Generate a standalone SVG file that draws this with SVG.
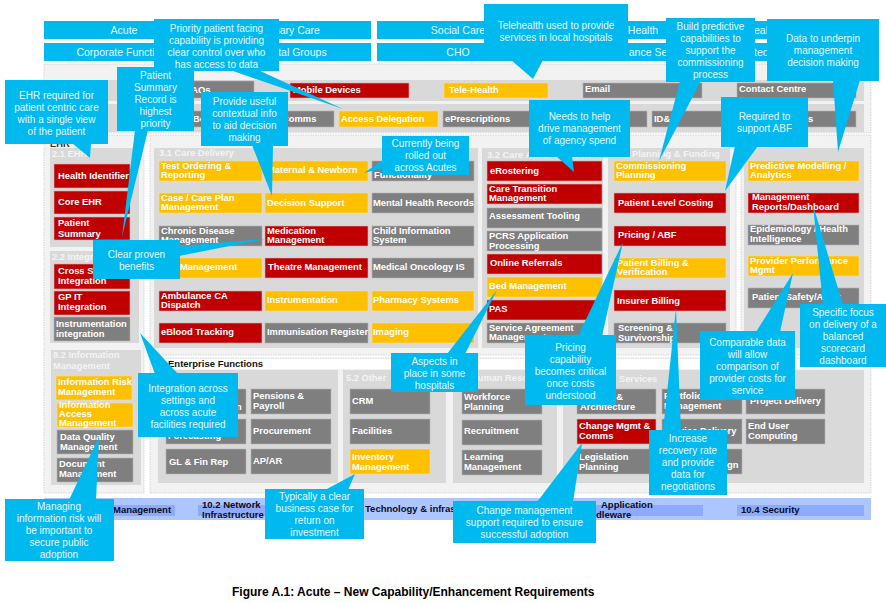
<svg xmlns="http://www.w3.org/2000/svg" width="886" height="603" viewBox="0 0 886 603">
<style>
text{font-family:"Liberation Sans",Arial,sans-serif}
.hd{fill:#00b9ef}.hdt{font-size:10.5px;fill:#e6f7fd;text-anchor:middle}
.out{fill:#f2f2f2;stroke:#c8c8c8;stroke-width:.7;stroke-dasharray:1.5 1}
.pan{fill:#d9d9d9}
.ti{font-size:9.3px;font-weight:bold;fill:#f4f4f4}
.r{fill:#c00000;stroke:#d8b0b0;stroke-width:.6}.o{fill:#ffc000;stroke:#f2dc9c;stroke-width:.6}.g{fill:#7f7f7f;stroke:#b4b4b4;stroke-width:.6}
.t{font-size:9.4px;font-weight:bold;fill:#fff}
.c,.tail{fill:#00b9ef}
.ct{font-size:10px;fill:#e6f7fd;text-anchor:middle}
.bar{fill:#8cacfb}.bt{font-size:9.5px;font-weight:bold;fill:#0a0a1e}
</style>
<rect width="886" height="603" fill="#fff"/>

<g id="header">
<g id="h-acute"><rect class="hd" x="44" y="21" width="162" height="18"/><text class="hdt" x="124" y="34">Acute</text></g>
<g id="h-primary"><rect class="hd" x="206" y="21" width="165" height="18"/><text class="hdt" x="289" y="34">Primary Care</text></g>
<g id="h-social"><rect class="hd" x="377" y="21" width="161" height="18"/><text class="hdt" x="458" y="34">Social Care</text></g>
<g id="h-health"><rect class="hd" x="538" y="21" width="167" height="18"/><text class="hdt" x="643" y="34">Health</text></g>
<g id="h-5"><rect class="hd" x="705" y="21" width="167" height="18"/><text class="hdt" x="761" y="34">eal</text></g>
<g id="h-corp"><rect class="hd" x="44" y="43" width="162" height="18"/><text class="hdt" x="124" y="56">Corporate Functions</text></g>
<g id="h-hosp"><rect class="hd" x="206" y="43" width="165" height="18"/><text class="hdt" x="289" y="56">Hospital Groups</text></g>
<g id="h-cho"><rect class="hd" x="377" y="43" width="161" height="18"/><text class="hdt" x="458" y="56">CHO</text></g>
<g id="h-ins"><rect class="hd" x="538" y="43" width="167" height="18"/><text class="hdt" x="648" y="56">ance Se</text></g>
<g id="h-10"><rect class="hd" x="705" y="43" width="167" height="18"/><text class="hdt" x="761" y="56">tec</text></g>
</g>

<g id="containers">
<rect class="out" x="44" y="64" width="827" height="69"/>
<text class="ti" x="50" y="74">1.0 Channels</text>
<rect class="pan" x="48" y="80" width="816" height="21"/>
<rect class="pan" x="48" y="104" width="816" height="28"/>
<rect class="out" x="44" y="135" width="100" height="358"/>
<text x="50" y="147" font-size="9.3" font-weight="bold" fill="#333">EHR</text>
<rect class="pan" x="50" y="148" width="89" height="99"/>
<text class="ti" x="52" y="157">2.1 EHR</text>
<rect class="pan" x="50" y="251" width="89" height="92"/>
<text class="ti" x="52" y="260">2.2 Integration</text>
<rect class="pan" x="51" y="350" width="90" height="135"/>
<text class="ti" x="53" y="358">8.2 Information</text>
<text class="ti" x="53" y="369">Management</text>
<rect class="out" x="150" y="135" width="586" height="220"/>
<text class="ti" x="157" y="143">3.0 Care</text>
<rect class="pan" x="154" y="148" width="324" height="200"/>
<text class="ti" x="159" y="156">3.1 Care Delivery</text>
<rect class="pan" x="482" y="148" width="121" height="200"/>
<text class="ti" x="487" y="158">3.2 Care Administration</text>
<rect class="pan" x="608" y="148" width="122" height="200"/>
<text class="ti" x="632" y="157">Planning &amp; Funding</text>
<rect class="out" x="741" y="135" width="130" height="220"/>
<text class="ti" x="783" y="145">Reporting</text>
<rect class="pan" x="744" y="148" width="120" height="200"/>
<rect class="out" x="150" y="358" width="721" height="135"/>
<rect x="152" y="359" width="717" height="10" fill="#fff"/>
<text x="168" y="367" font-size="9.5" font-weight="bold" fill="#111">Enterprise Functions</text>
<rect class="pan" x="158" y="370" width="180" height="113"/>
<rect class="pan" x="343" y="370" width="103" height="113"/>
<text class="ti" x="346" y="381">5.2 Other</text>
<rect class="pan" x="453" y="370" width="104" height="113"/>
<text class="ti" x="471" y="381">Human Resources</text>
<rect class="pan" x="563" y="370" width="301" height="113"/>
<text class="ti" x="619" y="382">Services</text>
<rect x="44" y="498" width="827" height="22" fill="#adc6fd"/>
<rect class="bar" x="50" y="505" width="125" height="11"/>
<rect class="bar" x="198" y="505" width="92" height="11"/>
<rect class="bar" x="563" y="505" width="140" height="11"/>
<rect class="bar" x="737" y="505" width="127" height="11"/>
<text class="bt" x="113" y="513">Management</text>
<text class="bt" x="202" y="508">10.2 Network</text>
<text class="bt" x="202" y="518">Infrastructure</text>
<text class="bt" x="365" y="512">Technology &amp; infrastructure</text>
<text class="bt" x="601" y="508">Application</text>
<text class="bt" x="596" y="518">dleware</text>
<text class="bt" x="741" y="513">10.4 Security</text>
</g>

<g id="nodes">
<g id="n-faq"><rect class="g" x="135" y="81" width="119" height="17"/><text class="t" x="186" y="93">FAQs</text></g>
<g id="n-mobile"><rect class="r" x="290" y="83" width="119" height="15"/><text class="t" x="293" y="93">Mobile Devices</text></g>
<g id="n-tele"><rect class="o" x="444" y="83" width="104" height="15"/><text class="t" x="449" y="93">Tele-Health</text></g>
<g id="n-email"><rect class="g" x="583" y="83" width="119" height="15"/><text class="t" x="585" y="92">Email</text></g>
<g id="n-contact"><rect class="g" x="737" y="83" width="119" height="15"/><text class="t" x="739" y="92">Contact Centre</text></g>
<g id="n-bo"><rect class="g" x="135" y="111" width="100" height="16"/><text class="t" x="193" y="122">Bo</text></g>
<g id="n-comms"><rect class="g" x="240" y="111" width="94" height="16"/><text class="t" x="282" y="122">Comms</text></g>
<g id="n-access"><rect class="o" x="339" y="111" width="99" height="16"/><text class="t" x="341" y="122">Access Delegation</text></g>
<g id="n-epres"><rect class="g" x="443" y="111" width="98" height="16"/><text class="t" x="445" y="122">ePrescriptions</text></g>
<g id="n-r2b"><rect class="g" x="547" y="111" width="100" height="16"/></g>
<g id="n-id"><rect class="g" x="652" y="111" width="98" height="16"/><text class="t" x="654" y="122">ID&amp;</text></g>
<g id="n-r2d"><rect class="g" x="756" y="111" width="100" height="16"/><text class="t" x="808" y="122">s</text></g>

<g id="n-health-id"><rect class="r" x="54" y="164" width="76" height="24"/><text class="t" x="58" y="179">Health Identifier</text></g>
<g id="n-core"><rect class="r" x="54" y="191" width="76" height="23"/><text class="t" x="58" y="205">Core EHR</text></g>
<g id="n-summary"><rect class="r" x="54" y="217" width="76" height="23"/><text class="t" x="58" y="226">Patient<tspan x="58" dy="11">Summary</tspan></text></g>
<g id="n-cross"><rect class="r" x="54" y="264" width="76" height="25"/><text class="t" x="58" y="274">Cross Setting<tspan x="58" dy="10">Integration</tspan></text></g>
<g id="n-gp"><rect class="r" x="54" y="291" width="76" height="24"/><text class="t" x="58" y="300">GP IT<tspan x="58" dy="10">Integration</tspan></text></g>
<g id="n-instr-int"><rect class="g" x="54" y="317" width="76" height="24"/><text class="t" x="56" y="327">Instrumentation<tspan x="56" dy="9.5">integration</tspan></text></g>
<g id="n-inforisk"><rect class="o" x="56" y="376" width="76" height="24"/><text class="t" x="58" y="385">Information Risk<tspan x="58" dy="9.5">Management</tspan></text></g>
<g id="n-infoacc"><rect class="o" x="57" y="403" width="76" height="24"/><text class="t" x="59" y="408">Information<tspan x="59" dy="9">Access</tspan><tspan x="59" dy="9">Management</tspan></text></g>
<g id="n-dq"><rect class="g" x="57" y="430" width="76" height="24"/><text class="t" x="60" y="440">Data Quality<tspan x="60" dy="10">Management</tspan></text></g>
<g id="n-doc"><rect class="g" x="57" y="458" width="76" height="24"/><text class="t" x="59" y="467">Document<tspan x="59" dy="9.5">Management</tspan></text></g>

<g id="n-test"><rect class="o" x="159" y="161" width="103" height="20"/><text class="t" x="161" y="169">Test Ordering &amp;<tspan x="161" dy="9">Reporting</tspan></text></g>
<g id="n-maternal"><rect class="o" x="265" y="161" width="103" height="20"/><text class="t" x="267" y="173">Maternal &amp; Newborn</text></g>
<g id="n-func"><rect class="g" x="372" y="161" width="102" height="20"/><text class="t" x="374" y="178">Functionality</text></g>
<g id="n-case"><rect class="o" x="159" y="193" width="103" height="20"/><text class="t" x="161" y="201">Case / Care Plan<tspan x="161" dy="9">Management</tspan></text></g>
<g id="n-decision"><rect class="o" x="265" y="193" width="103" height="20"/><text class="t" x="267" y="206">Decision Support</text></g>
<g id="n-mental"><rect class="g" x="372" y="193" width="102" height="20"/><text class="t" x="373" y="206">Mental Health Records</text></g>
<g id="n-chronic"><rect class="g" x="159" y="226" width="103" height="20"/><text class="t" x="161" y="234">Chronic Disease<tspan x="161" dy="9">Management</tspan></text></g>
<g id="n-med"><rect class="r" x="265" y="226" width="103" height="20"/><text class="t" x="267" y="234">Medication<tspan x="267" dy="9">Management</tspan></text></g>
<g id="n-child"><rect class="g" x="372" y="226" width="102" height="20"/><text class="t" x="373" y="234">Child Information<tspan x="373" dy="9">System</tspan></text></g>
<g id="n-mgmt"><rect class="o" x="159" y="258" width="103" height="20"/><text class="t" x="180" y="270">Management</text></g>
<g id="n-theatre"><rect class="r" x="265" y="258" width="103" height="20"/><text class="t" x="268" y="270">Theatre Management</text></g>
<g id="n-oncology"><rect class="g" x="372" y="258" width="102" height="20"/><text class="t" x="373" y="270">Medical Oncology IS</text></g>
<g id="n-amb"><rect class="r" x="159" y="291" width="103" height="20"/><text class="t" x="161" y="299">Ambulance CA<tspan x="161" dy="9">Dispatch</tspan></text></g>
<g id="n-instr"><rect class="o" x="265" y="291" width="103" height="20"/><text class="t" x="267" y="303">Instrumentation</text></g>
<g id="n-pharm"><rect class="o" x="372" y="291" width="102" height="20"/><text class="t" x="373" y="303">Pharmacy Systems</text></g>
<g id="n-eblood"><rect class="r" x="159" y="323" width="103" height="20"/><text class="t" x="161" y="335">eBlood Tracking</text></g>
<g id="n-immun"><rect class="g" x="265" y="323" width="103" height="20"/><text class="t" x="267" y="335">Immunisation Register</text></g>
<g id="n-imaging"><rect class="o" x="372" y="323" width="102" height="20"/><text class="t" x="373" y="335">Imaging</text></g>

<g id="n-eros"><rect class="r" x="487" y="161" width="115" height="20"/><text class="t" x="490" y="174">eRostering</text></g>
<g id="n-transition"><rect class="r" x="487" y="184" width="115" height="20"/><text class="t" x="489" y="192">Care Transition<tspan x="489" dy="9">Management</tspan></text></g>
<g id="n-assess"><rect class="g" x="487" y="208" width="115" height="20"/><text class="t" x="489" y="219">Assessment Tooling</text></g>
<g id="n-pcrs"><rect class="g" x="487" y="231" width="115" height="20"/><text class="t" x="489" y="239">PCRS  Application<tspan x="489" dy="10">Processing</tspan></text></g>
<g id="n-online"><rect class="r" x="487" y="254" width="115" height="20"/><text class="t" x="490" y="266">Online Referrals</text></g>
<g id="n-bed"><rect class="o" x="487" y="277" width="115" height="20"/><text class="t" x="489" y="289">Bed Management</text></g>
<g id="n-pas"><rect class="r" x="487" y="300" width="115" height="20"/><text class="t" x="489" y="312">PAS</text></g>
<g id="n-sam"><rect class="g" x="487" y="323" width="115" height="20"/><text class="t" x="489" y="331">Service Agreement<tspan x="489" dy="9">Management</tspan></text></g>

<g id="n-comm"><rect class="o" x="614" y="161" width="112" height="20"/><text class="t" x="616" y="169">Commissioning<tspan x="616" dy="9">Planning</tspan></text></g>
<g id="n-plc"><rect class="r" x="614" y="193" width="112" height="20"/><text class="t" x="618" y="206">Patient Level Costing</text></g>
<g id="n-abf"><rect class="r" x="614" y="226" width="112" height="20"/><text class="t" x="618" y="238">Pricing / ABF</text></g>
<g id="n-billing"><rect class="o" x="614" y="258" width="112" height="20"/><text class="t" x="617" y="266">Patient Billing &amp;<tspan x="617" dy="9">Verification</tspan></text></g>
<g id="n-insurer"><rect class="r" x="614" y="290" width="112" height="21"/><text class="t" x="617" y="304">Insurer Billing</text></g>
<g id="n-screen"><rect class="g" x="614" y="323" width="112" height="20"/><text class="t" x="618" y="331">Screening &amp;<tspan x="618" dy="9.5">Survivorship</tspan></text></g>

<g id="n-pred"><rect class="o" x="748" y="161" width="111" height="20"/><text class="t" x="750" y="169">Predictive Modelling /<tspan x="750" dy="9">Analytics</tspan></text></g>
<g id="n-reports"><rect class="r" x="748" y="193" width="111" height="20"/><text class="t" x="752" y="200">Management<tspan x="752" dy="10">Reports/Dashboard</tspan></text></g>
<g id="n-epi"><rect class="g" x="748" y="225" width="111" height="20"/><text class="t" x="750" y="232">Epidemiology / Health<tspan x="750" dy="9.5">Intelligence</tspan></text></g>
<g id="n-ppm"><rect class="o" x="748" y="256" width="111" height="20"/><text class="t" x="750" y="264">Provider Performance<tspan x="750" dy="9">Mgmt</tspan></text></g>
<g id="n-safety"><rect class="g" x="748" y="288" width="111" height="20"/><text class="t" x="752" y="300">Patient Safety/Audit</text></g>

<g id="n-r1a"><rect class="g" x="166" y="389" width="80" height="25"/><text class="t" x="236" y="410">n</text></g>
<g id="n-r2a"><rect class="g" x="166" y="419" width="80" height="25"/><text class="t" x="168" y="439">Forecasting</text></g>
<g id="n-gl"><rect class="g" x="166" y="449" width="80" height="25"/><text class="t" x="169" y="465">GL &amp; Fin Rep</text></g>
<g id="n-pensions"><rect class="g" x="251" y="389" width="80" height="25"/><text class="t" x="253" y="399">Pensions &amp;<tspan x="253" dy="9.5">Payroll</tspan></text></g>
<g id="n-proc"><rect class="g" x="251" y="419" width="80" height="25"/><text class="t" x="253" y="434">Procurement</text></g>
<g id="n-apar"><rect class="g" x="251" y="449" width="80" height="25"/><text class="t" x="253" y="464">AP/AR</text></g>
<g id="n-crm"><rect class="g" x="350" y="389" width="80" height="25"/><text class="t" x="352" y="404">CRM</text></g>
<g id="n-fac"><rect class="g" x="350" y="419" width="80" height="25"/><text class="t" x="352" y="434">Facilities</text></g>
<g id="n-inv"><rect class="o" x="350" y="449" width="80" height="25"/><text class="t" x="352" y="460">Inventory<tspan x="352" dy="9.5">Management</tspan></text></g>
<g id="n-work"><rect class="g" x="462" y="389" width="80" height="25"/><text class="t" x="464" y="400">Workforce<tspan x="464" dy="9.5">Planning</tspan></text></g>
<g id="n-rec"><rect class="g" x="462" y="420" width="80" height="25"/><text class="t" x="464" y="434">Recruitment</text></g>
<g id="n-learn"><rect class="g" x="462" y="450" width="80" height="25"/><text class="t" x="464" y="460">Learning<tspan x="464" dy="9.5">Management</tspan></text></g>
<g id="n-arch"><rect class="g" x="577" y="389" width="79" height="25"/><text class="t" x="610" y="400">r &amp;</text><text class="t" x="580" y="410">Architecture</text></g>
<g id="n-change"><rect class="r" x="577" y="419" width="79" height="25"/><text class="t" x="579" y="429">Change Mgmt &amp;<tspan x="579" dy="10">Comms</tspan></text></g>
<g id="n-leg"><rect class="g" x="577" y="449" width="79" height="25"/><text class="t" x="579" y="460">Legislation<tspan x="579" dy="9.5">Planning</tspan></text></g>
<g id="n-port"><rect class="g" x="662" y="389" width="80" height="25"/><text class="t" x="664" y="399">Portfolio<tspan x="664" dy="9.5">Management</tspan></text></g>
<g id="n-sdel"><rect class="g" x="662" y="419" width="80" height="25"/><text class="t" x="664" y="434">Service Delivery</text></g>
<g id="n-sdes"><rect class="g" x="662" y="449" width="80" height="25"/><text class="t" x="727" y="468">gn</text></g>
<g id="n-proj"><rect class="g" x="746" y="389" width="79" height="25"/><text class="t" x="750" y="404">Project Delivery</text></g>
<g id="n-enduser"><rect class="g" x="746" y="419" width="79" height="25"/><text class="t" x="748" y="429">End User<tspan x="748" dy="9.5">Computing</tspan></text></g>
</g>

<g id="connectors">
<polygon class="tail" points="72,143 91,143 90,158"/>
<polygon class="tail" points="135,130 148,130 122,237"/>
<polygon class="tail" points="230,70 258,70 343,109"/>
<polygon class="tail" points="252,145 273,145 272,196"/>
<polygon class="tail" points="511,60 543,60 533,79"/>
<polygon class="tail" points="680,81 701,81 659,161"/>
<polygon class="tail" points="833,80 860,80 838,152"/>
<polygon class="tail" points="556,156 572,156 574,172"/>
<polygon class="tail" points="735,146 758,146 725,191"/>
<polygon class="tail" points="383,160 383,168 364,173"/>
<polygon class="tail" points="179,246 179,256 265,239"/>
<polygon class="tail" points="155,374 178,374 140,333"/>
<polygon class="tail" points="69,500 96,500 99,437"/>
<polygon class="tail" points="325,490 348,490 355,474"/>
<polygon class="tail" points="537,502 573,502 582,443"/>
<polygon class="tail" points="447,354 465,354 497,290"/>
<polygon class="tail" points="578,336 602,336 623,242"/>
<polygon class="tail" points="663,431 681,431 676,308"/>
<polygon class="tail" points="756,332 780,332 793,273"/>
<polygon class="tail" points="823,305 843,305 813,205"/>
</g>

<g id="callouts">
<g id="c-ehr"><rect class="c" x="5" y="80" width="103" height="64"/><text class="ct" x="56.500" y="98.500">EHR required for<tspan x="56.500" dy="12">patient centric care</tspan><tspan x="56.500" dy="12">with a single view</tspan><tspan x="56.500" dy="12">of the patient</tspan></text></g>
<g id="c-summary"><rect class="c" x="117" y="67" width="77" height="64"/><text class="ct" x="155.500" y="78.500">Patient<tspan x="155.500" dy="12">Summary</tspan><tspan x="155.500" dy="12">Record is</tspan><tspan x="155.500" dy="12">highest</tspan><tspan x="155.500" dy="12">priority</tspan></text></g>
<g id="c-priority"><rect class="c" x="154" y="19" width="125" height="52"/><text class="ct" x="216.500" y="31.500">Priority patient facing<tspan x="216.500" dy="12">capability is providing</tspan><tspan x="216.500" dy="12">clear control over who</tspan><tspan x="216.500" dy="12">has access to data</tspan></text></g>
<g id="c-context"><rect class="c" x="201" y="92" width="87" height="54"/><text class="ct" x="244.500" y="104.500">Provide useful<tspan x="244.500" dy="12">contextual info</tspan><tspan x="244.500" dy="12">to aid decision</tspan><tspan x="244.500" dy="12">making</tspan></text></g>
<g id="c-tele"><rect class="c" x="484" y="4" width="144" height="57"/><text class="ct" x="556" y="28.500">Telehealth  used to provide<tspan x="556" dy="12">services in local hospitals</tspan></text></g>
<g id="c-build"><rect class="c" x="666" y="18" width="89" height="64"/><text class="ct" x="710.500" y="29.500">Build predictive<tspan x="710.500" dy="12">capabilities to</tspan><tspan x="710.500" dy="12">support the</tspan><tspan x="710.500" dy="12">commissioning</tspan><tspan x="710.500" dy="12">process</tspan></text></g>
<g id="c-data"><rect class="c" x="767" y="19" width="112" height="62"/><text class="ct" x="823" y="41.500">Data to underpin<tspan x="823" dy="12">management</tspan><tspan x="823" dy="12">decision making</tspan></text></g>
<g id="c-agency"><rect class="c" x="529" y="100" width="101" height="57"/><text class="ct" x="579.500" y="119.500">Needs to help<tspan x="579.500" dy="12">drive management</tspan><tspan x="579.500" dy="12">of agency spend</tspan></text></g>
<g id="c-abf"><rect class="c" x="721" y="97" width="87" height="50"/><text class="ct" x="764.500" y="119.500">Required to<tspan x="764.500" dy="12">support ABF</tspan></text></g>
<g id="c-rolled"><rect class="c" x="382" y="136" width="87" height="39"/><text class="ct" x="425.500" y="146.500">Currently being<tspan x="425.500" dy="12">rolled out</tspan><tspan x="425.500" dy="12">across Acutes</tspan></text></g>
<g id="c-clear"><rect class="c" x="93" y="240" width="87" height="39"/><text class="ct" x="136.500" y="257.500">Clear proven<tspan x="136.500" dy="12">benefits</tspan></text></g>
<g id="c-integration"><rect class="c" x="138" y="373" width="100" height="64"/><text class="ct" x="188" y="391.500">Integration across<tspan x="188" dy="12">settings and</tspan><tspan x="188" dy="12">across acute</tspan><tspan x="188" dy="12">facilities required</tspan></text></g>
<g id="c-risk"><rect class="c" x="5" y="499" width="109" height="62"/><text class="ct" x="59" y="509.500">Managing<tspan x="59" dy="12">information risk will</tspan><tspan x="59" dy="12">be important to</tspan><tspan x="59" dy="12">secure public</tspan><tspan x="59" dy="12">adoption</tspan></text></g>
<g id="c-business"><rect class="c" x="265" y="489" width="99" height="50"/><text class="ct" x="314.500" y="499.500">Typically a clear<tspan x="314.500" dy="12">business case for</tspan><tspan x="314.500" dy="12">return on</tspan><tspan x="314.500" dy="12">investment</tspan></text></g>
<g id="c-change"><rect class="c" x="453" y="501" width="143" height="42"/><text class="ct" x="524.500" y="513.500">Change management<tspan x="524.500" dy="12">support required to ensure</tspan><tspan x="524.500" dy="12">successful adoption</tspan></text></g>
<g id="c-aspects"><rect class="c" x="391" y="353" width="87" height="39"/><text class="ct" x="434.500" y="364.500">Aspects in<tspan x="434.500" dy="12">place in some</tspan><tspan x="434.500" dy="12">hospitals</tspan></text></g>
<g id="c-pricing"><rect class="c" x="525" y="335" width="91" height="70"/><text class="ct" x="570.500" y="350.500">Pricing<tspan x="570.500" dy="12">capability</tspan><tspan x="570.500" dy="12">becomes critical</tspan><tspan x="570.500" dy="12">once costs</tspan><tspan x="570.500" dy="12">understood</tspan></text></g>
<g id="c-recovery"><rect class="c" x="649" y="430" width="78" height="65"/><text class="ct" x="688" y="441.500">Increase<tspan x="688" dy="12">recovery rate</tspan><tspan x="688" dy="12">and provide</tspan><tspan x="688" dy="12">data for</tspan><tspan x="688" dy="12">negotiations</tspan></text></g>
<g id="c-comparable"><rect class="c" x="700" y="331" width="95" height="69"/><text class="ct" x="747.500" y="345.500">Comparable data<tspan x="747.500" dy="12">will allow</tspan><tspan x="747.500" dy="12">comparison of</tspan><tspan x="747.500" dy="12">provider costs for</tspan><tspan x="747.500" dy="12">service</tspan></text></g>
<g id="c-specific"><rect class="c" x="800" y="304" width="86" height="63"/><text class="ct" x="843" y="315.500">Specific focus<tspan x="843" dy="12">on delivery of a</tspan><tspan x="843" dy="12">balanced</tspan><tspan x="843" dy="12">scorecard</tspan><tspan x="843" dy="12">dashboard</tspan></text></g>
</g>

<text id="caption" x="232" y="596" font-size="12" font-weight="bold" fill="#000">Figure A.1: Acute – New Capability/Enhancement Requirements</text>
</svg>
